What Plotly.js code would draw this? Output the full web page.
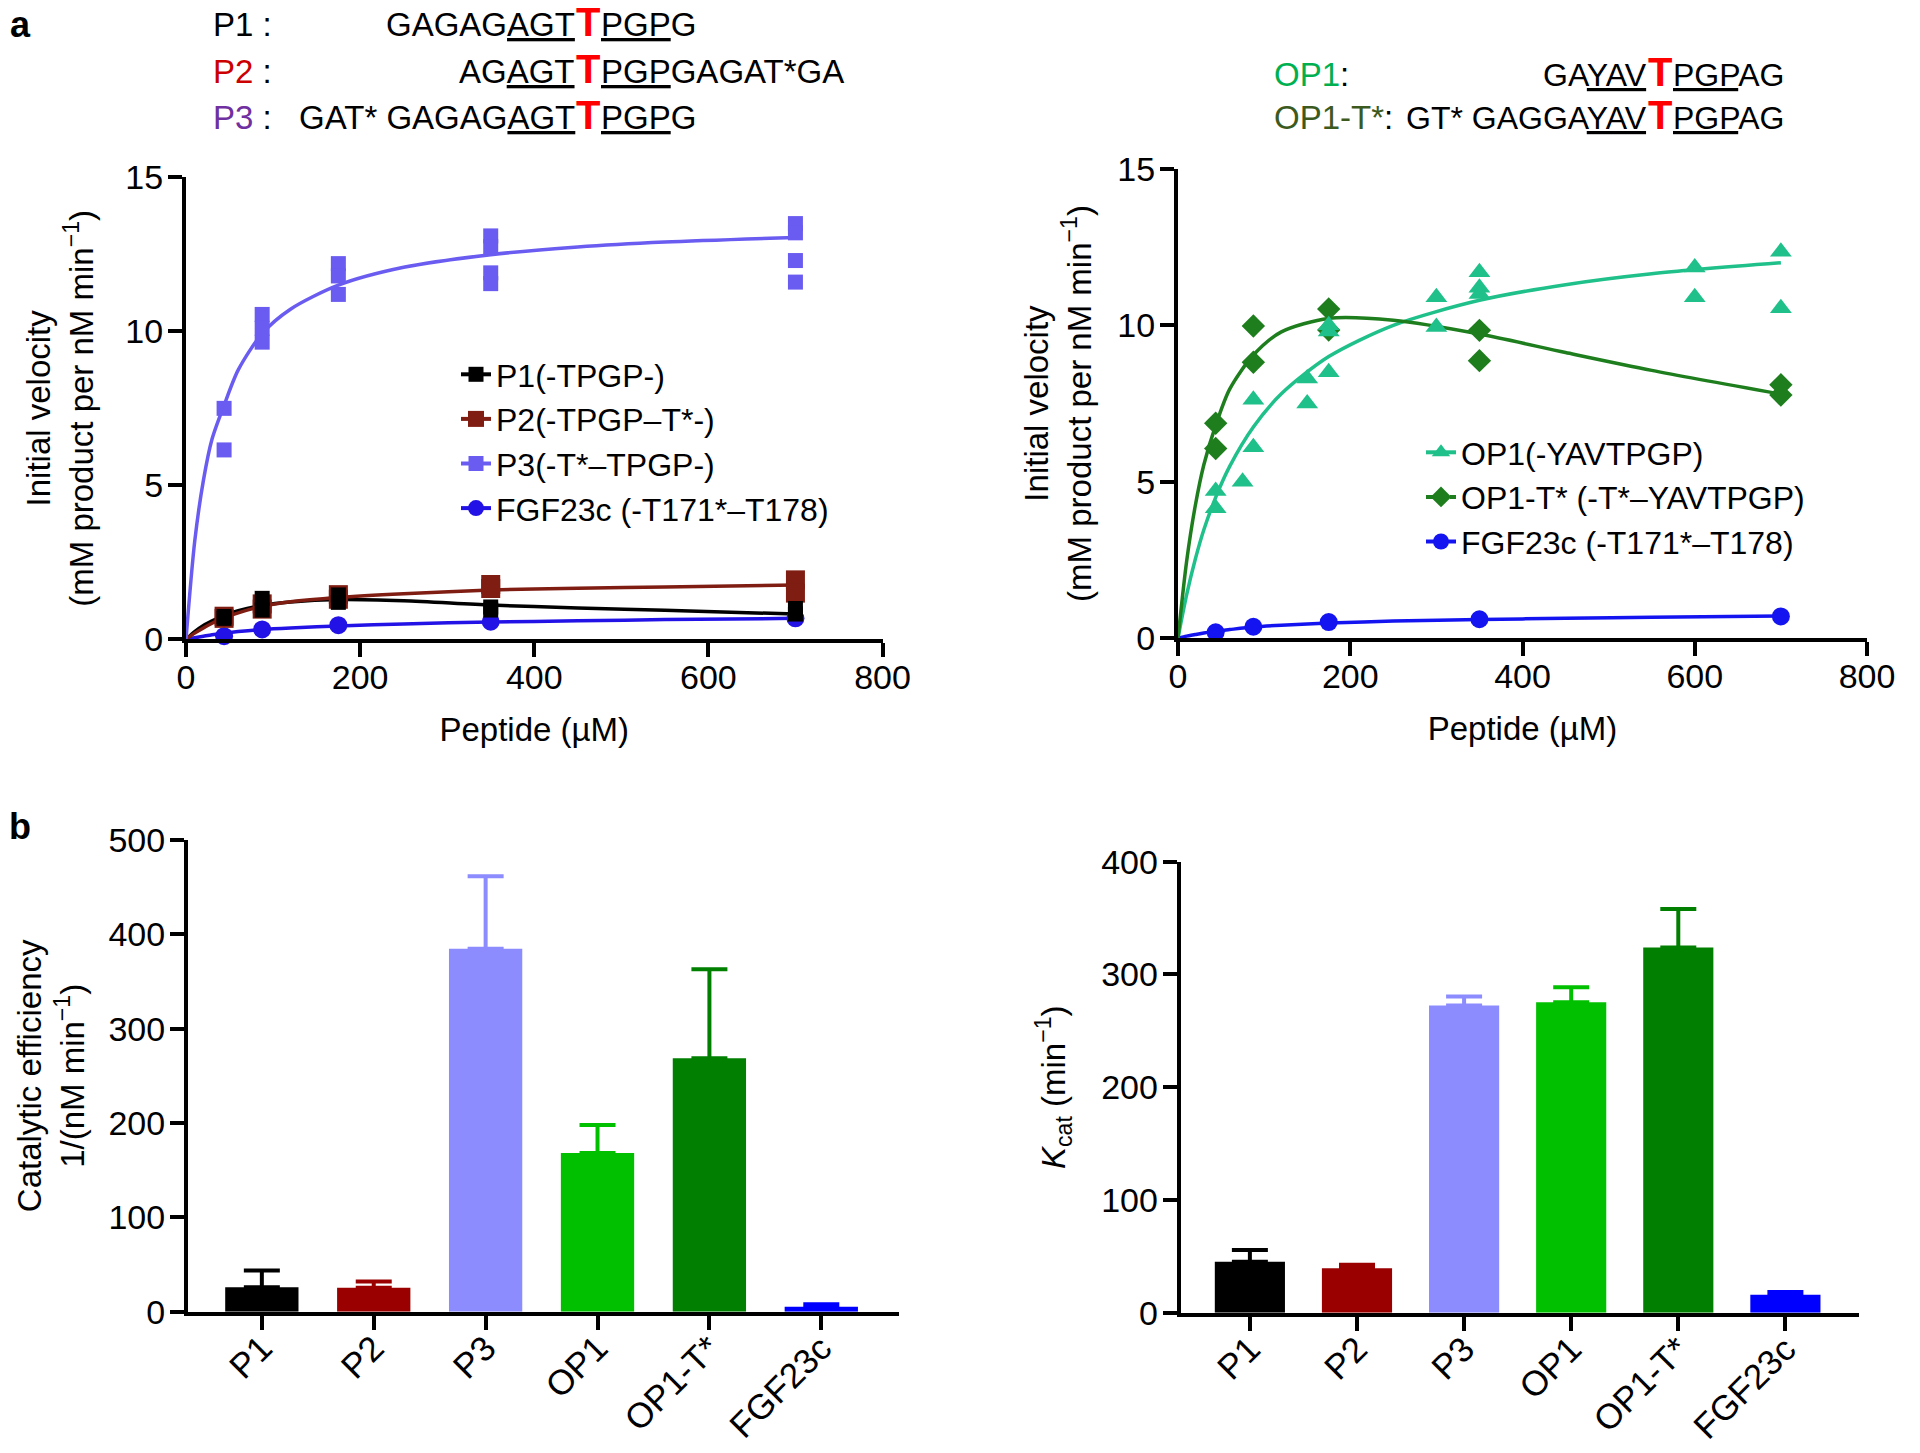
<!DOCTYPE html>
<html><head><meta charset="utf-8">
<script src="https://cdn.plot.ly/plotly-3.0.1.min.js"></script>
<style>html,body{margin:0;padding:0;background:#fff}#chart{width:1920px;height:1453px}</style>
</head><body><div id="chart"></div>
<script>
// ================= DATA =================
// Panel a (left): initial velocity vs peptide concentration (µM)
const fitX = [0, 10, 20, 30, 43.75, 60, 87.5, 120, 175, 250, 350, 450, 550, 700];

const p1X = [43.75, 43.75, 87.5, 87.5, 175, 175, 350, 350, 700, 700];
const p1Y = [0.74, 0.68, 1.33, 0.95, 1.44, 1.2, 1.05, 0.95, 1.0, 0.82];
const p1Fit = [0, 0.25, 0.45, 0.6, 0.78, 0.93, 1.1, 1.21, 1.29, 1.25, 1.11, 1.02, 0.94, 0.82];

const p2X = [43.75, 43.75, 87.5, 87.5, 175, 175, 350, 350, 700, 700];
const p2Y = [0.75, 0.68, 1.15, 0.98, 1.45, 1.3, 1.78, 1.65, 1.93, 1.5];
const p2Fit = [0, 0.2, 0.37, 0.52, 0.7, 0.86, 1.07, 1.22, 1.36, 1.48, 1.6, 1.66, 1.7, 1.76];

const p3X = [43.75, 43.75, 87.5, 87.5, 87.5, 175, 175, 175, 350, 350, 350, 350, 700, 700, 700, 700];
const p3Y = [7.5, 6.15, 10.55, 10.1, 9.65, 12.2, 11.8, 11.2, 13.1, 12.75, 11.9, 11.55, 13.5, 13.2, 12.3, 11.6];
const p3Fit = [0, 3.18, 5.16, 6.51, 7.6, 8.75, 9.93, 10.72, 11.5, 12.08, 12.49, 12.74, 12.9, 13.05];

const fgfX = [43.75, 87.5, 175, 350, 700];
const fgfLeftY = [0.1, 0.32, 0.46, 0.57, 0.68];
const fgfLeftFit = [0, 0.05, 0.1, 0.15, 0.2, 0.25, 0.32, 0.37, 0.43, 0.5, 0.56, 0.6, 0.64, 0.68];

// Panel a (right)
const op1X = [43.75, 43.75, 75, 87.5, 87.5, 150, 150, 175, 175, 175, 300, 300, 350, 350, 350, 600, 600, 700, 700];
const op1Y = [4.7, 4.15, 5.0, 7.62, 6.1, 8.3, 7.5, 10.0, 9.8, 8.5, 10.9, 9.95, 11.7, 11.2, 11.0, 11.85, 10.9, 12.35, 10.55];
const op1Fit = [0, 1.38, 2.51, 3.46, 4.5, 5.49, 6.75, 7.81, 9.0, 10.0, 10.8, 11.3, 11.65, 12.0];

const op1tX = [43.75, 43.75, 87.5, 87.5, 175, 175, 350, 350, 700, 700];
const op1tY = [6.87, 6.06, 9.98, 8.82, 10.52, 9.85, 9.84, 8.87, 8.1, 7.77];
const op1tFit = [0, 2.45, 4.22, 5.54, 6.8, 7.96, 9.05, 9.79, 10.22, 10.16, 9.72, 9.13, 8.56, 7.8];

const fgfRightY = [0.18, 0.36, 0.51, 0.6, 0.69];
const fgfRightFit = [0, 0.06, 0.11, 0.16, 0.22, 0.27, 0.35, 0.41, 0.48, 0.54, 0.59, 0.63, 0.66, 0.7];

// Panel b
const peptides = ['P1', 'P2', 'P3', 'OP1', 'OP1-T*', 'FGF23c'];
const catEff = [26, 25.5, 384.6, 168.3, 268.7, 5.3];
const catEffErr = [17.6, 6.5, 77, 29.7, 94.3, 2.7];
const kcat = [45.1, 39.5, 272.5, 275.4, 323.8, 16];
const kcatErr = [10.4, 3, 8, 13.3, 34.2, 2.3];

// tick values
const peptideTicks = [0, 200, 400, 600, 800];
const velTicks = [0, 5, 10, 15];
const effTicks = [0, 100, 200, 300, 400, 500];
const kcatTicks = [0, 100, 200, 300, 400];

// ================= STYLE =================
const FONT = 'Liberation Sans, Arial, Helvetica, sans-serif';
const barColors = ['#000000', '#9a0000', '#8c8cff', '#00c000', '#007f00', '#0000ff'];
const W = 1920, H = 1453;
const px = v => v / W, py = v => 1 - v / H;

// separate points with nulls so no connecting line is drawn (legend still shows a line sample)
function sep(arr) { const o = []; arr.forEach((v, i) => { if (i) o.push(null); o.push(v); }); return o; }

function curve(x, y, color, xa, ya, w) {
  return {x: x, y: y, xaxis: xa, yaxis: ya, mode: 'lines', showlegend: false, hoverinfo: 'skip',
    line: {color: color, width: w || 3.5, shape: 'spline', smoothing: 0.8}, cliponaxis: false};
}
function pts(x, y, name, color, symbol, size, xa, ya, legend, rank, dash) {
  return {x: sep(x), y: sep(y), xaxis: xa, yaxis: ya, name: name, mode: 'lines+markers', connectgaps: false,
    line: {color: color, width: 4, dash: dash || 'solid'}, marker: {symbol: symbol, size: size, color: color},
    legend: legend, legendrank: rank, cliponaxis: false};
}

const traces = [
  // left kinetics
  curve(fitX, fgfLeftFit, '#2312e6', 'x', 'y'),
  curve(fitX, p1Fit, '#000000', 'x', 'y'),
  curve(fitX, p2Fit, '#7f1d12', 'x', 'y'),
  curve(fitX, p3Fit, '#6a5cf0', 'x', 'y'),
  pts(fgfX, fgfLeftY, 'FGF23c (-T171*–T178)', '#2312e6', 'circle', 18, 'x', 'y', 'legend', 4),
  pts(p2X, p2Y, 'P2(-TPGP–T*-)', '#7f1d12', 'square', 19, 'x', 'y', 'legend', 2),
  pts(p1X, p1Y, 'P1(-TPGP-)', '#000000', 'square', 15, 'x', 'y', 'legend', 1),
  pts(p3X, p3Y, 'P3(-T*–TPGP-)', '#6a5cf0', 'square', 15, 'x', 'y', 'legend', 3),
  // right kinetics
  curve(fitX, fgfRightFit, '#1414f0', 'x2', 'y2'),
  curve(fitX, op1Fit, '#1fc08a', 'x2', 'y2'),
  curve(fitX, op1tFit, '#1e7e1e', 'x2', 'y2'),
  pts(fgfX, fgfRightY, 'FGF23c (-T171*–T178)', '#1414f0', 'circle', 18, 'x2', 'y2', 'legend2', 3),
  pts(op1tX, op1tY, 'OP1-T* (-T*–YAVTPGP)', '#1e7e1e', 'diamond', 18, 'x2', 'y2', 'legend2', 2, 'dash'),
  pts(op1X, op1Y, 'OP1(-YAVTPGP)', '#1fc08a', 'triangle-up', 19, 'x2', 'y2', 'legend2', 1)
];

function bars(vals, errs, xa, ya) {
  return peptides.map((p, i) => ({
    type: 'bar', x: [p], y: [vals[i]], xaxis: xa, yaxis: ya, width: 0.655, showlegend: false,
    marker: {color: barColors[i], line: {width: 0}},
    error_y: {type: 'data', symmetric: false, array: [errs[i]], arrayminus: [0], color: barColors[i], thickness: 4, width: 18}
  }));
}
traces.push(...bars(catEff, catEffErr, 'x3', 'y3'));
traces.push(...bars(kcat, kcatErr, 'x4', 'y4'));

const axisBase = {showline: true, linecolor: '#000', linewidth: 4, ticks: 'outside', ticklen: 14, tickwidth: 4,
  tickcolor: '#000', showgrid: false, zeroline: false, fixedrange: true,
  tickfont: {family: FONT, size: 34, color: '#000'}};
const titleFont = {family: FONT, size: 33, color: '#000'};
const barTickFont = {family: FONT, size: 35, color: '#000'};

const layout = {
  width: W, height: H, margin: {l: 0, r: 0, t: 0, b: 0}, paper_bgcolor: '#fff', plot_bgcolor: 'rgba(0,0,0,0)',
  font: {family: FONT, color: '#000'}, barmode: 'overlay', showlegend: true,
  xaxis: Object.assign({}, axisBase, {domain: [px(186), px(882.5)], range: [0, 800], tickvals: peptideTicks, anchor: 'y',
    ticklabelstandoff: -9, title: {text: 'Peptide (µM)', font: titleFont, standoff: 24}}),
  yaxis: Object.assign({}, axisBase, {domain: [py(639.3), py(177.4)], range: [0, 15], tickvals: velTicks, anchor: 'x',
    ticklabelstandoff: -2, title: {text: 'Initial velocity<br>(mM product per nM min<sup>−1</sup>)', font: titleFont, standoff: 23}}),
  xaxis2: Object.assign({}, axisBase, {domain: [px(1178), px(1867)], range: [0, 800], tickvals: peptideTicks, anchor: 'y2',
    ticklabelstandoff: -9, title: {text: 'Peptide (µM)', font: titleFont, standoff: 24}}),
  yaxis2: Object.assign({}, axisBase, {domain: [py(638), py(169)], range: [0, 15], tickvals: velTicks, anchor: 'x2',
    ticklabelstandoff: -2, title: {text: 'Initial velocity<br>(mM product per nM min<sup>−1</sup>)', font: titleFont, standoff: 17}}),
  xaxis3: Object.assign({}, axisBase, {domain: [px(188), px(898.5)], range: [-0.66, 5.69], type: 'category', tickangle: -45, anchor: 'y3',
    ticklabelstandoff: -16, tickfont: barTickFont}),
  yaxis3: Object.assign({}, axisBase, {domain: [py(1311.7), py(840)], range: [0, 500], tickvals: effTicks, anchor: 'x3',
    ticklabelstandoff: -2, title: {text: 'Catalytic efficiency<br>1/(nM min<sup>−1</sup>)', font: titleFont, standoff: 15}}),
  xaxis4: Object.assign({}, axisBase, {domain: [px(1180.7), px(1859.3)], range: [-0.646, 5.69], type: 'category', tickangle: -45, anchor: 'y4',
    ticklabelstandoff: -16, tickfont: barTickFont}),
  yaxis4: Object.assign({}, axisBase, {domain: [py(1312.7), py(861.7)], range: [0, 400], tickvals: kcatTicks, anchor: 'x4',
    ticklabelstandoff: -2, title: {text: '<i>K</i><sub>cat</sub> (min<sup>−1</sup>)', font: titleFont, standoff: 27}}),
  legend: {x: px(456), y: py(347), xanchor: 'left', yanchor: 'top', bgcolor: 'rgba(0,0,0,0)', borderwidth: 0,
    font: {family: FONT, size: 32, color: '#000'}, traceorder: 'normal'},
  legend2: {x: px(1421), y: py(425), xanchor: 'left', yanchor: 'top', bgcolor: 'rgba(0,0,0,0)', borderwidth: 0,
    font: {family: FONT, size: 32, color: '#000'}, traceorder: 'normal'},
  annotations: []
};

// panel letters
const panelLetters = [{t: 'a', x: 20, y: 25}, {t: 'b', x: 20, y: 827}];
panelLetters.forEach(p => layout.annotations.push({xref: 'paper', yref: 'paper', x: px(p.x), y: py(p.y),
  xanchor: 'center', yanchor: 'middle', showarrow: false, text: '<b>' + p.t + '</b>',
  font: {family: 'Liberation Sans Narrow, Liberation Sans, Arial', size: 36, color: '#000'}}));

// peptide sequences (red T aligned in each block)
const seqRows = [
  {label: 'P1', color: '#000000', sfx: ' :', pre: 'GAGAG<u>AGT</u>', post: '<u>PGP</u>G', y: 24.5, lx: 211, tx: 588, fs: 33},
  {label: 'P2', color: '#cc0000', sfx: ' :', pre: 'AG<u>AGT</u>', post: '<u>PGP</u>GAGAT*GA', y: 71, lx: 211, tx: 588, fs: 33},
  {label: 'P3', color: '#7030a0', sfx: ' :', pre: 'GAT* GAGAG<u>AGT</u>', post: '<u>PGP</u>G', y: 117.5, lx: 211, tx: 588, fs: 33},
  {label: 'OP1', color: '#00b050', sfx: ':', pre: 'GA<u>YAV</u>', post: '<u>PGP</u>AG', y: 74.7, lx: 1272, tx: 1660, fs: 32},
  {label: 'OP1-T*', color: '#3c5a1e', sfx: ':', pre: 'GT* GAGGA<u>YAV</u>', post: '<u>PGP</u>AG', y: 117.5, lx: 1272, tx: 1660, fs: 32}
];
seqRows.forEach(r => {
  const f = {family: FONT, size: r.fs, color: '#000'};
  const lab = '<span style="color:' + r.color + '">' + r.label + '</span>' + r.sfx;
  layout.annotations.push({xref: 'paper', yref: 'paper', x: px(r.lx), y: py(r.y), xanchor: 'left', yanchor: 'middle',
    showarrow: false, text: lab, font: {family: FONT, size: 33, color: '#000'}});
  layout.annotations.push({xref: 'paper', yref: 'paper', x: px(r.tx - 11), y: py(r.y), xanchor: 'right', yanchor: 'middle',
    showarrow: false, text: r.pre, font: f});
  layout.annotations.push({xref: 'paper', yref: 'paper', x: px(r.tx), y: py(r.y), xanchor: 'center', yanchor: 'middle',
    yshift: 2.5, showarrow: false, text: '<b>T</b>', font: {family: FONT, size: 40, color: '#ff0000'}});
  layout.annotations.push({xref: 'paper', yref: 'paper', x: px(r.tx + 11), y: py(r.y), xanchor: 'left', yanchor: 'middle',
    showarrow: false, text: r.post, font: f});
});

Plotly.newPlot('chart', traces, layout, {staticPlot: true, displayModeBar: false});
</script>
</body></html>
